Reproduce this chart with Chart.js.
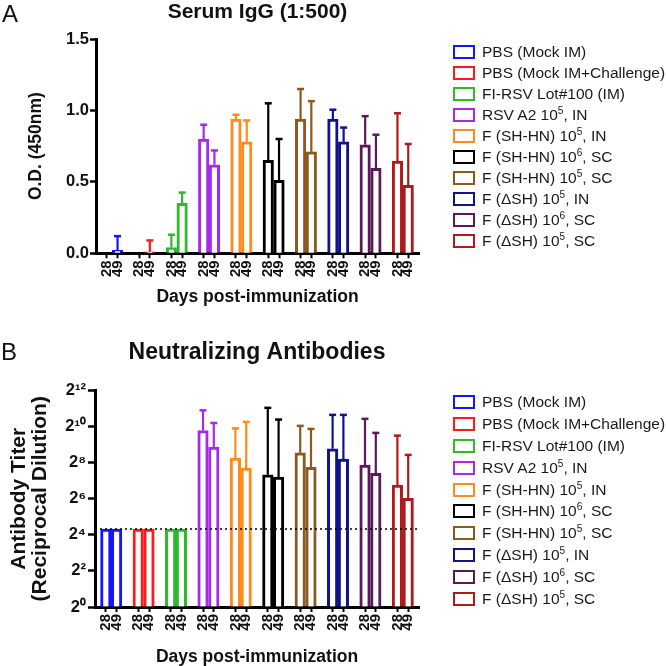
<!DOCTYPE html>
<html>
<head>
<meta charset="utf-8">
<script src="https://cdn.jsdelivr.net/npm/chart.js@4/dist/chart.umd.min.js"></script>
<style>
  html, body { margin: 0; padding: 0; background: #fff; }
  #wrap { position: relative; width: 666px; height: 666px; overflow: hidden; font-family: 'Liberation Sans', Arial, sans-serif; }
  canvas { position: absolute; left: 0; }
  #cA { top: 0; }
  #cB { top: 333px; }
  .panel { position: absolute; font-size: 24px; line-height: 24px; color: #111; }
  .legend { position: absolute; left: 453px; font-size: 15.5px; color: #1a1a1a; white-space: nowrap; }
  .legend .row { display: flex; align-items: center; }
  .legend .box { width: 22px; height: 14px; box-sizing: border-box; border: 2.5px solid #000; background: #fff; margin-right: 7px; flex: none; }
  .legend sup { font-size: 65%; line-height: 0; vertical-align: 0.55em; }
</style>
</head>
<body>
<div id="wrap">
  <canvas id="cA" width="666" height="333"></canvas>
  <canvas id="cB" width="666" height="335"></canvas>
  <div class="panel" style="left:2px; top:2px;">A</div>
  <div class="panel" style="left:1px; top:340px;">B</div>
  <div class="legend" id="legA" style="top:41px;"></div>
  <div class="legend" id="legB" style="top:391px;"></div>
</div>
<script>
// ---------------- data ----------------
const groups = [
  'PBS (Mock IM)',
  'PBS (Mock IM+Challenge)',
  'FI-RSV Lot#100 (IM)',
  'RSV A2 10\u2075, IN',
  'F (SH-HN) 10\u2075, IN',
  'F (SH-HN) 10\u2076, SC',
  'F (SH-HN) 10\u2075, SC',
  'F (\u0394SH) 10\u2075, IN',
  'F (\u0394SH) 10\u2076, SC',
  'F (\u0394SH) 10\u2075, SC'
];
const colors = ['#1414ff', '#ff1a1a', '#2dbb2d', '#a52aeb', '#ff8a1e', '#000000', '#8b5a1e', '#12128c', '#5a1a5a', '#b01a1a'];
const days = ['28', '49'];

// Panel A: Serum IgG (1:500), O.D. (450nm); mean and upper error (mean + SD)
const igg28    = [null, null, 0.04, 0.80, 0.94, 0.65, 0.94, 0.94, 0.76, 0.645];
const igg49    = [0.02, 0.01, 0.35, 0.62, 0.78, 0.51, 0.71, 0.78, 0.595, 0.475];
const igg28Top = [null, null, 0.13, 0.90, 0.97, 1.05, 1.15, 1.005, 0.96, 0.98];
const igg49Top = [0.12, 0.09, 0.425, 0.72, 0.93, 0.80, 1.065, 0.88, 0.83, 0.765];
const iggTicks = [0, 0.5, 1.0, 1.5];

// Panel B: Neutralizing antibodies, log2 titer
const nab28    = [4.32, 4.32, 4.32, 9.78, 8.26, 7.33, 8.54, 8.77, 7.86, 6.76];
const nab49    = [4.32, 4.32, 4.32, 8.87, 7.70, 7.20, 7.74, 8.20, 7.41, 6.02];
const nab28Top = [null, null, null, 10.9, 9.9, 11.04, 10.04, 10.65, 10.43, 9.5];
const nab49Top = [null, null, null, 10.2, 10.26, 10.39, 9.87, 10.65, 9.65, 8.43];
const nabTicks = [0, 2, 4, 6, 8, 10, 12];
const lod = 4.32;

// ---------------- helpers ----------------
Chart.defaults.font.family = "'Liberation Sans', Arial, sans-serif";
Chart.defaults.color = '#111';

const xLabels = [''];
groups.forEach(() => { xLabels.push(days[0], days[1], ''); });

function makeDatasets(v28, v49, t28, t49) {
  return groups.map((g, k) => {
    const data = xLabels.map(() => null);
    const top = xLabels.map(() => null);
    data[1 + 3 * k] = v28[k];
    data[2 + 3 * k] = v49[k];
    top[1 + 3 * k] = t28[k];
    top[2 + 3 * k] = t49[k];
    return {
      label: g, data, errorTop: top,
      borderColor: colors[k], backgroundColor: '#ffffff',
      borderWidth: 3, borderSkipped: 'start', barThickness: 10.5, grouped: false
    };
  });
}

const supMap = {'0':'\u2070','1':'\u00b9','2':'\u00b2','3':'\u00b3','4':'\u2074','5':'\u2075','6':'\u2076','7':'\u2077','8':'\u2078','9':'\u2079'};
const toSup = s => String(s).split('').map(c => supMap[c] || c).join('');

const errorBars = {
  id: 'errorBars',
  afterDatasetsDraw(chart) {
    const ctx = chart.ctx, ys = chart.scales.y;
    chart.data.datasets.forEach((ds, di) => {
      const meta = chart.getDatasetMeta(di);
      ds.errorTop.forEach((hi, i) => {
        if (hi == null || ds.data[i] == null) return;
        const el = meta.data[i];
        const y0 = ys.getPixelForValue(ds.data[i]);
        const y1 = ys.getPixelForValue(hi);
        ctx.save();
        ctx.strokeStyle = ds.borderColor;
        ctx.lineWidth = 2.2;
        ctx.beginPath();
        ctx.moveTo(el.x, y0); ctx.lineTo(el.x, y1);
        ctx.stroke();
        ctx.lineWidth = 2.5;
        ctx.beginPath();
        ctx.moveTo(el.x - 3.5, y1); ctx.lineTo(el.x + 3.5, y1);
        ctx.stroke();
        ctx.restore();
      });
    });
  }
};

const lodLine = {
  id: 'lodLine',
  afterDatasetsDraw(chart, args, opts) {
    const ctx = chart.ctx;
    const y = chart.scales.y.getPixelForValue(opts.value);
    const {left, right} = chart.chartArea;
    ctx.save();
    ctx.setLineDash([2, 3]);
    ctx.lineWidth = 1.6;
    ctx.strokeStyle = '#000';
    ctx.beginPath();
    ctx.moveTo(left, y); ctx.lineTo(right, y);
    ctx.stroke();
    ctx.restore();
  }
};

function xScale(height) {
  return {
    type: 'category', offset: false,
    grid: {
      display: true, offset: false, drawOnChartArea: false, drawTicks: true,
      tickLength: 5, tickWidth: 2,
      tickColor: c => (c.tick && c.tick.label) ? '#000' : 'rgba(0,0,0,0)'
    },
    border: {display: true, width: 3, color: '#000'},
    ticks: {autoSkip: false, minRotation: 90, maxRotation: 90, padding: 2, color: '#111', font: {size: 15, weight: 'bold'}},
    title: {display: true, text: 'Days post-immunization', color: '#111', font: {size: 17.5, weight: 'bold'}, padding: {top: 10, bottom: 0}},
    afterFit: s => { s.height = height; }
  };
}

function buildLegend(chart, el, rowH) {
  const items = Chart.defaults.plugins.legend.labels.generateLabels(chart);
  el.innerHTML = items.map(it => {
    const txt = it.text.replace(/[\u2070\u00b9\u00b2\u00b3\u2074-\u2079]/g, c => {
      const d = Object.keys(supMap).find(k => supMap[k] === c);
      return '<sup>' + d + '</sup>';
    });
    return '<div class="row" style="height:' + rowH + 'px"><span class="box" style="border-color:' + it.strokeStyle + '"></span><span>' + txt + '</span></div>';
  }).join('');
}

// ---------------- Panel A ----------------
const chartA = new Chart(document.getElementById('cA'), {
  type: 'bar',
  data: {labels: xLabels, datasets: makeDatasets(igg28, igg49, igg28Top, igg49Top)},
  options: {
    responsive: false, animation: false, devicePixelRatio: 1,
    layout: {padding: {left: 18, right: 247, top: 0, bottom: 25}},
    plugins: {
      legend: {display: false},
      tooltip: {enabled: false},
      title: {display: true, fullSize: false, text: 'Serum IgG (1:500)', color: '#111', font: {size: 21, weight: 'bold'}, padding: {top: 0, bottom: 13.8}}
    },
    scales: {
      x: xScale(54.7),
      y: {
        type: 'linear', min: iggTicks[0], max: iggTicks[iggTicks.length - 1],
        afterBuildTicks: s => { s.ticks = iggTicks.map(v => ({value: v})); },
        ticks: {padding: 1, color: '#111', font: {size: 16.5, weight: 'bold'}, callback: v => Number(v).toFixed(1)},
        grid: {display: true, drawOnChartArea: false, drawTicks: true, tickLength: 6, tickWidth: 2.5, tickColor: '#000'},
        border: {display: true, width: 3, color: '#000'},
        title: {display: true, text: 'O.D. (450nm)', color: '#111', font: {size: 17.5, weight: 'bold'}, padding: {top: 7.5, bottom: 0}},
        afterFit: s => { s.width = 78; }
      }
    }
  },
  plugins: [errorBars]
});
buildLegend(chartA, document.getElementById('legA'), 21);

// ---------------- Panel B ----------------
const chartB = new Chart(document.getElementById('cB'), {
  type: 'bar',
  data: {labels: xLabels, datasets: makeDatasets(nab28, nab49, nab28Top, nab49Top)},
  options: {
    responsive: false, animation: false, devicePixelRatio: 1,
    layout: {padding: {left: 0, right: 247, top: 0, bottom: 0}},
    plugins: {
      legend: {display: false},
      tooltip: {enabled: false},
      title: {display: true, fullSize: false, text: 'Neutralizing Antibodies', color: '#111', font: {size: 23, weight: 'bold'}, padding: {top: 6.2, bottom: 23.7}},
      lodLine: {value: lod}
    },
    scales: {
      x: xScale(61),
      y: {
        type: 'linear', min: nabTicks[0], max: nabTicks[nabTicks.length - 1],
        afterBuildTicks: s => { s.ticks = nabTicks.map(v => ({value: v})); },
        ticks: {padding: 2, color: '#111', font: {size: 16.5, weight: 'bold'}, callback: v => '2' + toSup(v)},
        grid: {display: true, drawOnChartArea: false, drawTicks: true, tickLength: 7, tickWidth: 2.5, tickColor: '#000'},
        border: {display: true, width: 3, color: '#000'},
        title: {display: true, text: ['Antibody Titer', '(Reciprocal Dilution)'], color: '#111', font: {size: 21, weight: 'bold', lineHeight: 1.0}, padding: {top: 8.5, bottom: 0}},
        afterFit: s => { s.width = 95; }
      }
    }
  },
  plugins: [errorBars, lodLine]
});
buildLegend(chartB, document.getElementById('legB'), 21.9);
</script>
</body>
</html>
